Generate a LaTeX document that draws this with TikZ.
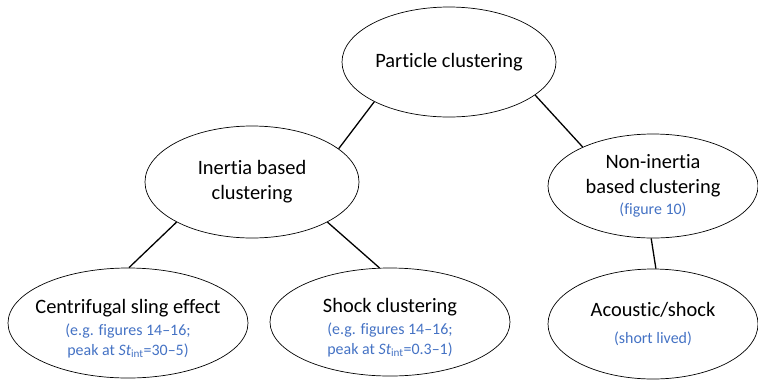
\documentclass[tikz,border=0pt]{standalone}
\usepackage{fontspec}
\setmainfont[RawFeature={-liga;-clig;-calt}]{Carlito}
\definecolor{notecolor}{RGB}{68,114,196}
\usetikzlibrary{shapes.geometric}
\newcommand{\note}[1]{{\color{notecolor}\fontsize{16}{19.5}\selectfont #1}}

\begin{document}
\begin{tikzpicture}[x=1bp, y=-1bp,
    cluster/.style={ellipse, draw, line width=0.7pt, inner xsep=-30bp, inner ysep=-20bp,
      align=center, font=\fontsize{20.5}{25}\selectfont},
    link/.style={line width=1.3pt}]
  \useasboundingbox (0,0) rectangle (758,380);
  % top level
  \node[cluster, minimum width=214bp, minimum height=110bp] (root) at (449,62) {Particle clustering};
  % second level
  \node[cluster, minimum width=214bp, minimum height=112bp] (inertia) at (252,182) {Inertia based\\clustering};
  \node[cluster, minimum width=210bp, minimum height=104bp] (noninertia) at (653,186)
    {Non-inertia\\based clustering\\[-4bp]\note{(figure 10)}};
  % third level
  \node[cluster, minimum width=240bp, minimum height=110bp] (sling) at (128,323)
    {\rule{0pt}{25bp}Centrifugal sling effect\\[-3bp]\note{(e.g. figures 14--16;}\\[-5bp]\note{peak at \textit{St}\textsubscript{int}=30--5)}};
  \node[cluster, minimum width=240bp, minimum height=108bp] (shock) at (390,322)
    {\rule{0pt}{25bp}Shock clustering\\[-3bp]\note{(e.g. figures 14--16;}\\[-5bp]\note{peak at \textit{St}\textsubscript{int}=0.3--1)}};
  \node[cluster, minimum width=210bp, minimum height=110bp] (acoustic) at (653,324)
    {Acoustic/shock\\[3bp]\note{(short lived)}};
  % links
  \draw[link] (root.208) -- (inertia.21);
  \draw[link] (root.339) -- (noninertia.151);
  \draw[link] (inertia.208) -- (sling.89);
  \draw[link] (inertia.332) -- (shock.101);
  \draw[link] (noninertia.268) -- (acoustic.87);
\end{tikzpicture}
\end{document}
